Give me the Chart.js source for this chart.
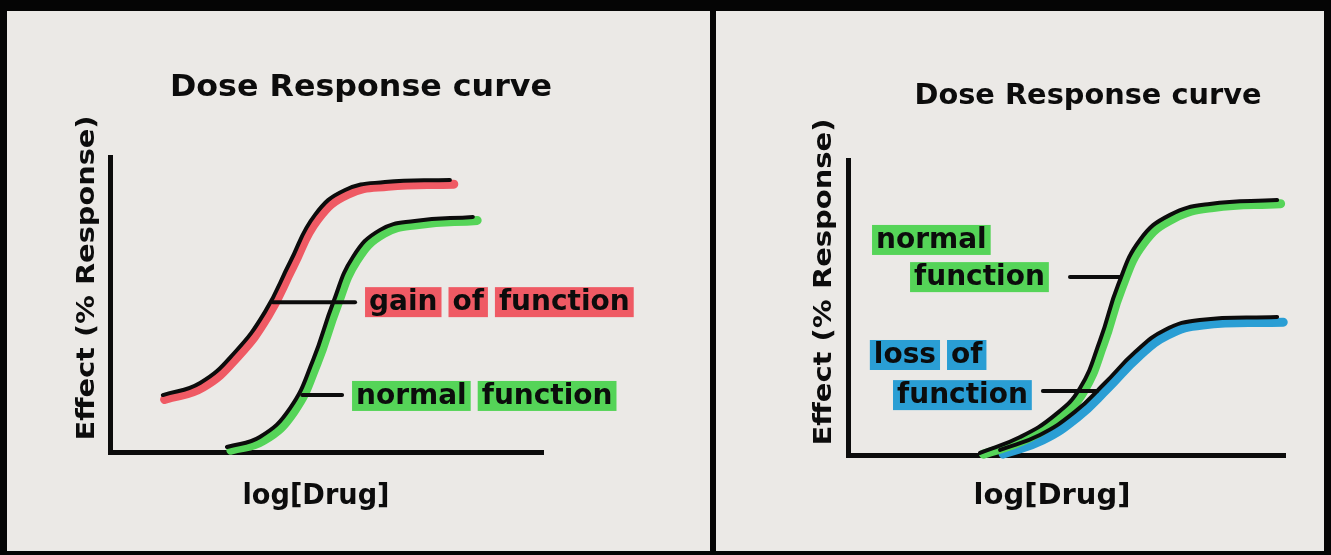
<!DOCTYPE html>
<html>
<head>
<meta charset="utf-8">
<script src="https://cdn.jsdelivr.net/npm/chart.js@4.4.1/dist/chart.umd.min.js"></script>
<style>
  html, body { margin: 0; padding: 0; background: #000; }
  #frame { position: relative; width: 1331px; height: 555px; background: #050505; overflow: hidden; }
  .paper { position: absolute; top: 11px; height: 540px; background: #ebe9e6; }
  #left  { left: 7px;   width: 703px; }
  #right { left: 716px; width: 608px; }
</style>
</head>
<body>
<div id="frame">
  <div class="paper" id="left"><canvas id="chartLeft"></canvas></div>
  <div class="paper" id="right"><canvas id="chartRight"></canvas></div>
</div>

<script>
/* Dose response curves, hand-drawn look
   x = log[Drug] (0-100), y = effect % (0-100) */

// --- left panel : gain of function vs normal
const gainX       = [12.2, 20.8, 28.9, 35.8, 41.6, 47.3, 54.3, 63.5, 78.5];
const gainY       = [19.3, 23.4, 33.9, 47.5, 64.4, 80.3, 88.8, 91.5, 92.2];
const gainBandX   = [12.6, 21.5, 29.6, 36.5, 42.3, 48.0, 55.0, 64.2, 79.4];
const gainBandY   = [17.8, 22.0, 32.5, 46.1, 63.0, 78.9, 87.4, 90.1, 90.8];
const normLX      = [27.0, 34.6, 41.6, 46.9, 51.5, 56.1, 62.4, 70.4, 83.8];
const normLY      = [1.7, 5.1, 14.9, 31.2, 50.5, 66.1, 75.3, 78.3, 79.7];
const normLBandX  = [27.9, 35.5, 42.5, 47.8, 52.4, 57.0, 63.3, 71.3, 84.8];
const normLBandY  = [0.6, 3.9, 13.7, 30.0, 49.3, 64.9, 74.1, 77.1, 78.5];
const gainTickX   = [37.6, 56.6];
const gainTickY   = [50.8, 50.8];
const normLTickX  = [44.4, 53.6];
const normLTickY  = [19.3, 19.3];

// --- right panel : loss of function vs normal
const normRX      = [30.2, 39.4, 47.4, 53.1, 57.7, 61.8, 66.8, 73.7, 82.8, 98.2];
const normRY      = [0.7, 6.1, 13.6, 22.7, 39.0, 57.6, 72.9, 81.4, 85.1, 86.4];
const normRBandX  = [31.0, 40.2, 48.2, 53.9, 58.5, 62.6, 67.6, 74.5, 83.6, 99.0];
const normRBandY  = [0.3, 4.9, 12.4, 21.5, 37.8, 56.4, 71.7, 80.2, 83.9, 85.2];
const lossX       = [34.8, 43.9, 51.9, 58.8, 65.7, 72.5, 80.5, 98.2];
const lossY       = [1.7, 6.8, 14.6, 24.4, 34.9, 42.4, 45.8, 46.8];
const lossBandX   = [35.5, 44.6, 52.6, 59.5, 66.4, 73.2, 81.2, 99.6];
const lossBandY   = [0.3, 5.1, 12.9, 22.7, 33.2, 40.7, 44.1, 45.0];
const normRTickX  = [50.8, 62.2];
const normRTickY  = [60.3, 60.3];
const lossTickX   = [44.6, 57.0];
const lossTickY   = [21.7, 21.7];

// texts
const TITLE  = 'Dose Response curve';
const YLABEL = 'Effect (% Response)';
const XLABEL = 'log[Drug]';

const RED   = '#ef5a64';
const GREEN = '#55d458';
const BLUE  = '#2a9ed4';
const INK   = '#0c0c0c';
const FONT  = '"DejaVu Sans", "Open Sans", sans-serif';

const zip = (xs, ys) => xs.map((x, i) => ({ x, y: ys[i] }));

// Trait noir par-dessus, surligneur en dessous
function inkLine(xs, ys) {
  return {
    data: zip(xs, ys), borderColor: INK, borderWidth: 4,
    tension: 0.45, pointRadius: 0,
    borderCapStyle: 'round', order: 0, clip: false,
  };
}
function band(xs, ys, color) {
  return {
    data: zip(xs, ys), borderColor: color, borderWidth: 9,
    tension: 0.45, pointRadius: 0,
    borderCapStyle: 'round', order: 2, clip: false,
  };
}
function tick(xs, ys) {
  return {
    data: zip(xs, ys), borderColor: INK, borderWidth: 4,
    tension: 0, pointRadius: 0, borderCapStyle: 'round', order: 0, clip: false,
  };
}

// texte étiré à une largeur donnée (lettrage à la main)
function fitText(ctx, t) {
  ctx.save();
  ctx.font = `bold ${t.size}px ${FONT}`;
  const w = ctx.measureText(t.text).width;
  ctx.translate(t.x, t.y);
  if (t.rotate) ctx.rotate(t.rotate);
  ctx.scale(t.width / w, 1);
  ctx.fillStyle = INK;
  ctx.textAlign = 'center';
  ctx.textBaseline = 'middle';
  ctx.fillText(t.text, 0, 0);
  ctx.restore();
}

// mots surlignés
function drawTag(ctx, tag, px, py) {
  ctx.save();
  ctx.font = `bold ${tag.size || 28}px ${FONT}`;
  ctx.textBaseline = 'middle';
  let x = px;
  tag.words.forEach(word => {
    const w = ctx.measureText(word).width;
    ctx.fillStyle = tag.color;
    ctx.fillRect(x, py - 15, w + 8, 30);
    ctx.fillStyle = INK;
    ctx.fillText(word, x + 4, py + 1);
    x += w + 15;
  });
  ctx.restore();
}

const sketchText = {
  id: 'sketchText',
  afterDatasetsDraw(chart, args, opts) {
    const ctx = chart.ctx;
    const { x: xs, y: ys } = chart.scales;
    (opts.texts || []).forEach(t => fitText(ctx, t));
    (opts.tags || []).forEach(tag =>
      drawTag(ctx, tag, xs.getPixelForValue(tag.x), ys.getPixelForValue(tag.y)));
  },
};

function axes() {
  const common = {
    type: 'linear', min: 0, max: 100,
    grid: { display: false, drawTicks: false },
    ticks: { display: false },
    border: { display: true, color: INK, width: 5 },
  };
  return { x: { ...common }, y: { ...common } };
}

function makeChart(canvas, datasets, padding, texts, tags) {
  return new Chart(canvas, {
    type: 'line',
    data: { datasets },
    options: {
      responsive: true,
      maintainAspectRatio: false,
      animation: false,
      layout: { padding },
      scales: axes(),
      plugins: {
        legend: { display: false },
        tooltip: { enabled: false },
        sketchText: { texts, tags },
      },
    },
    plugins: [sketchText],
  });
}

makeChart(document.getElementById('chartLeft'), [
  inkLine(gainX, gainY),
  band(gainBandX, gainBandY, RED),
  inkLine(normLX, normLY),
  band(normLBandX, normLBandY, GREEN),
  tick(gainTickX, gainTickY),
  tick(normLTickX, normLTickY),
], { left: 103, right: 167, top: 146, bottom: 99 }, [
  { text: TITLE,  x: 354, y: 77,  width: 382, size: 30 },
  { text: YLABEL, x: 81,  y: 267, width: 325, size: 24, rotate: -Math.PI / 2 },
  { text: XLABEL, x: 309, y: 486, width: 147, size: 28 },
], [
  { words: ['gain', 'of', 'function'], x: 58.9, y: 50.8, color: RED },
  { words: ['normal', 'function'],     x: 55.9, y: 19.0, color: GREEN },
]);

makeChart(document.getElementById('chartRight'), [
  inkLine(normRX, normRY),
  band(normRBandX, normRBandY, GREEN),
  inkLine(lossX, lossY),
  band(lossBandX, lossBandY, BLUE),
  tick(normRTickX, normRTickY),
  tick(lossTickX, lossTickY),
], { left: 132, right: 39, top: 149, bottom: 96 }, [
  { text: TITLE,  x: 372, y: 86,  width: 347, size: 28 },
  { text: YLABEL, x: 109, y: 271, width: 327, size: 24, rotate: -Math.PI / 2 },
  { text: XLABEL, x: 336, y: 486, width: 157, size: 28 },
], [
  { words: ['normal'],      x: 5.5,  y: 72.9, color: GREEN },
  { words: ['function'],    x: 14.2, y: 60.3, color: GREEN },
  { words: ['loss', 'of'],  x: 5.0,  y: 33.9, color: BLUE },
  { words: ['function'],    x: 10.3, y: 20.3, color: BLUE },
]);
</script>
</body>
</html>
